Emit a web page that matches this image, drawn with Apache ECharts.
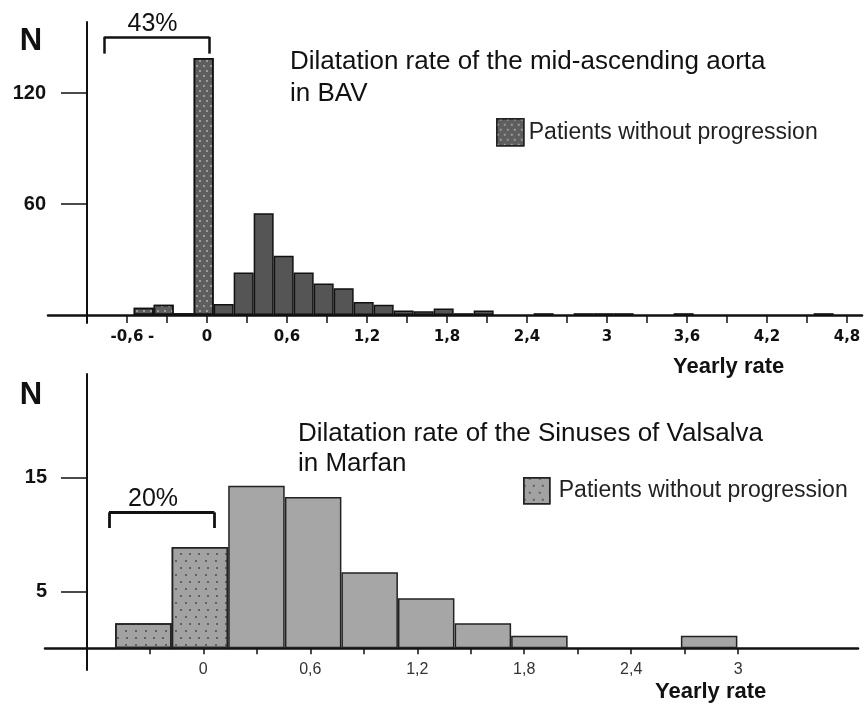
<!DOCTYPE html>
<html><head><meta charset="utf-8">
<script src="https://cdn.jsdelivr.net/npm/echarts@6/dist/echarts.min.js"></script>
<style>html,body{margin:0;padding:0;background:#fff}#c{width:867px;height:706px}</style>
</head><body><div id="c"></div>
<script>
// ---- Top panel: mid-ascending aorta in BAV (bin centres, counts) ----
const bavNoProgX = [-0.475, -0.325, -0.175, -0.025];
const bavNoProgN = [4, 5.5, 1, 139];
const bavProgX = [0.125, 0.275, 0.425, 0.575, 0.725, 0.875, 1.025, 1.175, 1.325, 1.475, 1.625, 1.775, 1.925, 2.075, 2.525, 2.825, 2.975, 3.125, 3.575, 4.625];
const bavProgN = [6, 23, 55, 32, 23, 17, 14.5, 7, 5.5, 2.5, 2, 3.5, 1, 2.5, 1, 1, 1, 1, 1, 1];
const topTickValues = [-0.9, -0.6, -0.3, 0, 0.3, 0.6, 0.9, 1.2, 1.5, 1.8, 2.1, 2.4, 2.7, 3, 3.3, 3.6, 3.9, 4.2, 4.5, 4.8];
const topLabelValues = [-0.6, -0.42, 0, 0.6, 1.2, 1.8, 2.4, 3, 3.6, 4.2, 4.8];
const topLabels = ['-0,6', '-', '0', '0,6', '1,2', '1,8', '2,4', '3', '3,6', '4,2', '4,8'];
const topYTicks = [60, 120];
const topBracketX = [-0.77, 0.017];
const topBracketY = [150.4, 141.3];

// ---- Bottom panel: sinuses of Valsalva in Marfan ----
const marfanNoProgX = [-0.336, -0.019];
const marfanNoProgN = [2.2, 8.9];
const marfanProgX = [0.298, 0.616, 0.933, 1.250, 1.568, 1.885, 2.837];
const marfanProgN = [14.3, 13.3, 6.7, 4.4, 2.2, 1.1, 1.1];
const botTickValues = [-0.3, 0, 0.3, 0.6, 0.9, 1.2, 1.5, 1.8, 2.1, 2.4, 2.7, 3];
const botLabelValues = [0, 0.6, 1.2, 1.8, 2.4, 3];
const botLabels = ['0', '0,6', '1,2', '1,8', '2,4', '3'];
const botYTicks = [5, 15];
const botBracketX = [-0.529, 0.062];
const botBracketY = [11.96, 10.58];

const zip = (xs, ys) => xs.map((x, i) => [x, ys[i]]);
const fmt = (vals, labs) => v => { const i = vals.findIndex(t => Math.abs(t - v) < 1e-6); return i >= 0 ? labs[i] : ''; };
const bracket = (bx, by) => [
  [{coord: [bx[0], by[0]]}, {coord: [bx[1], by[0]]}],
  [{coord: [bx[0], by[0]]}, {coord: [bx[0], by[1]]}],
  [{coord: [bx[1], by[0]]}, {coord: [bx[1], by[1]]}]
];
const ink = '#111';
const chart = echarts.init(document.getElementById('c'));
chart.setOption({
  animation: false,
  backgroundColor: '#fff',
  grid: [
    {left: 48, top: 22, width: 814, height: 301, outerBoundsMode: 'none'},
    {left: 45, top: 374, width: 813, height: 296, outerBoundsMode: 'none'}
  ],
  xAxis: [
    {type: 'value', gridIndex: 0, min: -1.1925, max: 4.9125,
     axisLine: {onZero: true, lineStyle: {color: ink, width: 2.5}},
     axisTick: {customValues: topTickValues, length: 8, lineStyle: {color: ink, width: 1.5}},
     axisLabel: {customValues: topLabelValues, formatter: fmt(topLabelValues, topLabels), margin: 7,
       fontFamily: 'DejaVu Sans', fontWeight: 'bold', fontSize: 15, color: ink},
     splitLine: {show: false}},
    {type: 'value', gridIndex: 1, min: -0.888, max: 3.672,
     axisLine: {onZero: true, lineStyle: {color: ink, width: 2.5}},
     axisTick: {customValues: botTickValues, length: 6, lineStyle: {color: ink, width: 1.5}},
     axisLabel: {customValues: botLabelValues, formatter: fmt(botLabelValues, botLabels), margin: -8,
       fontFamily: 'Liberation Sans', fontSize: 16, color: '#333'},
     splitLine: {show: false}}
  ],
  yAxis: [
    {type: 'value', gridIndex: 0, min: -4.3, max: 158.4, offset: -39,
     axisLine: {show: true, onZero: false, lineStyle: {color: ink, width: 2}},
     axisTick: {show: true, customValues: topYTicks, length: 26, lineStyle: {color: ink, width: 1.5}},
     axisLabel: {customValues: topYTicks, margin: 41, fontFamily: 'Liberation Sans', fontWeight: 'bold', fontSize: 20, color: ink},
     splitLine: {show: false}},
    {type: 'value', gridIndex: 1, min: -1.91, max: 24.13, offset: -42,
     axisLine: {show: true, onZero: false, lineStyle: {color: ink, width: 2}},
     axisTick: {show: true, customValues: botYTicks, length: 26, lineStyle: {color: ink, width: 1.5}},
     axisLabel: {customValues: botYTicks, margin: 40, fontFamily: 'Liberation Sans', fontWeight: 'bold', fontSize: 20, color: ink},
     splitLine: {show: false}}
  ],
  legend: [
    {data: ['Patients without progression'], left: 496, top: 118, padding: 0, itemWidth: 27, itemHeight: 27,
     icon: 'rect', selectedMode: false,
     itemStyle: {borderColor: '#222', borderWidth: 1.5},
     textStyle: {fontFamily: 'Liberation Sans', fontSize: 23, color: '#222'}},
    {data: ['Patients without progression '], left: 523, top: 477, padding: 0, itemWidth: 26, itemHeight: 26,
     icon: 'rect', selectedMode: false,
     itemStyle: {borderColor: '#222', borderWidth: 1.5},
     textStyle: {fontFamily: 'Liberation Sans', fontSize: 23, color: '#222', padding: [0, 0, 0, 4]}}
  ],
  series: [
    {type: 'bar', name: 'Patients without progression', xAxisIndex: 0, yAxisIndex: 0,
     data: zip(bavNoProgX, bavNoProgN), barWidth: 20, barGap: '-100%',
     itemStyle: {color: '#5e5e5e', borderColor: ink, borderWidth: 1.5,
       decal: {symbol: 'circle', symbolSize: 1, color: '#b0b0b0', dashArrayX: [[1.6, 4.4], [0, 3, 1.6, 1.4]], dashArrayY: [1.6, 3]}},
     markLine: {silent: true, symbol: ['none', 'none'], label: {show: false},
       lineStyle: {color: ink, width: 2.5, type: 'solid'}, data: bracket(topBracketX, topBracketY)}},
    {type: 'bar', name: 'BAV progression', xAxisIndex: 0, yAxisIndex: 0,
     data: zip(bavProgX, bavProgN), barWidth: 20, barGap: '-100%',
     itemStyle: {color: '#555', borderColor: ink, borderWidth: 1.5}},
    {type: 'bar', name: 'Patients without progression ', xAxisIndex: 1, yAxisIndex: 1,
     data: zip(marfanNoProgX, marfanNoProgN), barWidth: 56.5, barGap: '-100%',
     itemStyle: {color: '#a2a2a2', borderColor: '#222', borderWidth: 1.5,
       decal: {symbol: 'circle', symbolSize: 1, color: '#4a4a4a', dashArrayX: [[2, 7], [0, 4.5, 2, 2.5]], dashArrayY: [2, 4.5]}},
     markLine: {silent: true, symbol: ['none', 'none'], label: {show: false},
       lineStyle: {color: ink, width: 2.8, type: 'solid'}, data: bracket(botBracketX, botBracketY)}},
    {type: 'bar', name: 'Marfan progression', xAxisIndex: 1, yAxisIndex: 1,
     data: zip(marfanProgX, marfanProgN), barWidth: 56.5, barGap: '-100%',
     itemStyle: {color: '#a6a6a6', borderColor: '#222', borderWidth: 1.5}}
  ],
  graphic: [
    {type: 'text', x: 31, y: 41, style: {text: 'N', fill: ink, font: 'bold 31px "Liberation Sans"', align: 'center', verticalAlign: 'middle'}},
    {type: 'text', x: 31, y: 395, style: {text: 'N', fill: ink, font: 'bold 31px "Liberation Sans"', align: 'center', verticalAlign: 'middle'}},
    {type: 'text', x: 152.5, y: 24, style: {text: '43%', fill: ink, font: '25px "Liberation Sans"', align: 'center', verticalAlign: 'middle'}},
    {type: 'text', x: 153, y: 499, style: {text: '20%', fill: ink, font: '25px "Liberation Sans"', align: 'center', verticalAlign: 'middle'}},
    {type: 'text', x: 290, y: 62, style: {text: 'Dilatation rate of the mid-ascending aorta', fill: ink, font: '26px "Liberation Sans"', align: 'left', verticalAlign: 'middle'}},
    {type: 'text', x: 290, y: 94, style: {text: 'in BAV', fill: ink, font: '26px "Liberation Sans"', align: 'left', verticalAlign: 'middle'}},
    {type: 'text', x: 298, y: 434, style: {text: 'Dilatation rate of the Sinuses of Valsalva', fill: ink, font: '26px "Liberation Sans"', align: 'left', verticalAlign: 'middle'}},
    {type: 'text', x: 298, y: 464, style: {text: 'in Marfan', fill: ink, font: '26px "Liberation Sans"', align: 'left', verticalAlign: 'middle'}},
    {type: 'text', x: 673, y: 367, style: {text: 'Yearly rate', fill: ink, font: 'bold 22px "Liberation Sans"', align: 'left', verticalAlign: 'middle'}},
    {type: 'text', x: 655, y: 692, style: {text: 'Yearly rate', fill: ink, font: 'bold 22px "Liberation Sans"', align: 'left', verticalAlign: 'middle'}}
  ]
});
</script></body></html>
